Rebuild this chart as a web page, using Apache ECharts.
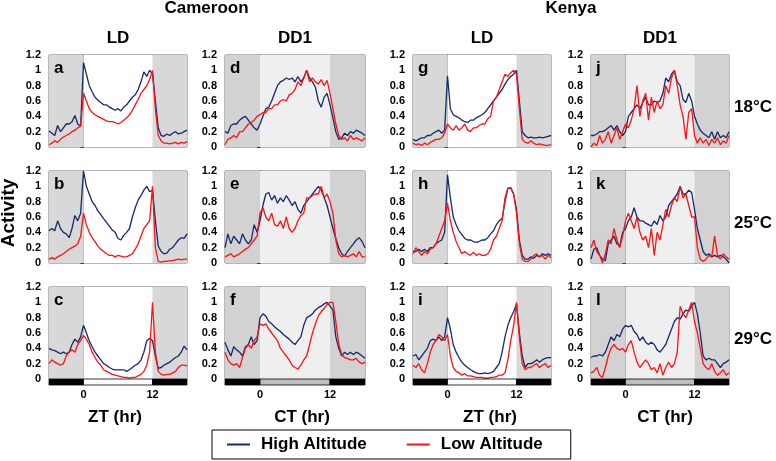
<!DOCTYPE html>
<html><head><meta charset="utf-8">
<script src="https://cdn.jsdelivr.net/npm/echarts@6/dist/echarts.min.js"></script>
<style>html,body{margin:0;padding:0;background:#fff}#c{width:776px;height:461px}</style>
</head><body><div id="c"></div>
<script>
// ---------- data ----------
const hours = [-6,-5.5,-5,-4.5,-4,-3.5,-3,-2.5,-2,-1.5,-1,-0.5,0,0.5,1,1.5,2,2.5,3,3.5,4,4.5,5,5.5,6,6.5,7,7.5,8,8.5,9,9.5,10,10.5,11,11.5,12,12.5,13,13.5,14,14.5,15,15.5,16,16.5,17,17.5,18];
const countries = ['Cameroon', 'Kenya'];
const conditions = ['LD', 'DD1', 'LD', 'DD1'];
const axisTitles = ['ZT (hr)', 'CT (hr)', 'ZT (hr)', 'CT (hr)'];
const temperatures = ['18', '25', '29'];
const seriesNames = ['High Altitude', 'Low Altitude'];
const xTickLabels = [0, 12];
const schedule = [[-6, 0, 'dark'], [0, 12, 'light'], [12, 18, 'dark']];

// Cameroon LD
const aHigh = [0.21,0.18,0.15,0.28,0.2,0.25,0.3,0.3,0.33,0.41,0.3,0.27, 1.1,0.95,0.8,0.72,0.65,0.61,0.58,0.55,0.55,0.52,0.5,0.48, 0.5,0.47,0.52,0.55,0.6,0.65,0.68,0.75,0.85,0.98,0.92,1.0, 0.95,0.6,0.25,0.15,0.14,0.17,0.15,0.18,0.2,0.17,0.18,0.2, 0.22];
const aLow  = [0.03,0.05,0.08,0.06,0.1,0.13,0.15,0.17,0.2,0.22,0.25,0.27, 0.7,0.6,0.5,0.45,0.42,0.4,0.38,0.36,0.34,0.33,0.33,0.32, 0.3,0.32,0.35,0.38,0.42,0.48,0.55,0.62,0.7,0.75,0.8,0.88, 1.0,0.5,0.15,0.08,0.05,0.05,0.04,0.05,0.06,0.04,0.06,0.05, 0.07];
const bHigh = [0.42,0.45,0.42,0.55,0.45,0.4,0.38,0.33,0.45,0.62,0.55,0.65, 1.2,1.0,0.9,0.8,0.75,0.68,0.63,0.58,0.53,0.48,0.43,0.4, 0.32,0.3,0.36,0.4,0.45,0.6,0.72,0.82,0.88,0.95,1.0,0.93, 0.95,0.55,0.22,0.15,0.12,0.13,0.18,0.2,0.25,0.3,0.33,0.32, 0.38];
const bLow  = [0.05,0.07,0.05,0.08,0.1,0.12,0.15,0.18,0.2,0.22,0.25,0.35, 0.65,0.5,0.4,0.33,0.28,0.22,0.18,0.15,0.12,0.1,0.1,0.08, 0.1,0.09,0.08,0.08,0.1,0.12,0.18,0.25,0.35,0.45,0.5,0.55, 1.0,0.2,0.02,0.01,0.02,0.02,0.03,0.03,0.04,0.05,0.04,0.05, 0.05];
const cHigh = [0.4,0.38,0.37,0.35,0.33,0.35,0.33,0.35,0.45,0.52,0.48,0.55, 0.7,0.6,0.5,0.42,0.35,0.3,0.25,0.2,0.18,0.15,0.13,0.12, 0.12,0.12,0.12,0.1,0.12,0.15,0.18,0.2,0.25,0.35,0.5,0.53, 0.5,0.3,0.14,0.15,0.18,0.2,0.22,0.25,0.28,0.3,0.35,0.43, 0.38];
const cLow  = [0.2,0.25,0.22,0.2,0.18,0.2,0.3,0.35,0.38,0.35,0.45,0.5, 0.57,0.52,0.45,0.35,0.28,0.22,0.18,0.12,0.1,0.08,0.06,0.05, 0.04,0.03,0.02,0.02,0.01,0.02,0.02,0.04,0.06,0.1,0.18,0.35, 1.0,0.35,0.1,0.06,0.05,0.06,0.06,0.08,0.1,0.15,0.18,0.18, 0.17];
// Cameroon DD1
const dHigh = [0.2,0.18,0.28,0.3,0.3,0.35,0.38,0.4,0.35,0.3,0.25,0.22, 0.3,0.4,0.5,0.52,0.6,0.7,0.8,0.85,0.87,0.9,0.88,0.9, 0.85,0.92,0.85,0.9,1.0,0.9,0.85,0.78,0.6,0.52,0.65,0.7, 0.55,0.38,0.2,0.1,0.12,0.18,0.15,0.2,0.18,0.22,0.2,0.18, 0.15];
const dLow  = [0.03,0.1,0.12,0.15,0.12,0.2,0.2,0.25,0.3,0.32,0.35,0.4, 0.42,0.45,0.45,0.5,0.5,0.55,0.55,0.6,0.62,0.6,0.68,0.7, 0.75,0.85,0.8,0.9,1.0,0.85,0.9,0.85,0.82,0.88,0.8,0.87, 0.7,0.5,0.3,0.15,0.1,0.12,0.08,0.15,0.1,0.12,0.1,0.08, 0.12];
const eHigh = [0.2,0.38,0.25,0.35,0.3,0.25,0.38,0.3,0.25,0.3,0.5,0.4, 0.55,0.75,0.9,0.92,0.82,0.88,0.78,0.85,0.8,0.88,0.82,0.75, 0.8,0.7,0.65,0.75,0.8,0.85,0.9,0.95,1.0,0.95,0.85,0.75, 0.6,0.45,0.32,0.2,0.12,0.09,0.15,0.2,0.25,0.3,0.33,0.28, 0.2];
const eLow  = [0.08,0.1,0.12,0.08,0.1,0.12,0.15,0.18,0.2,0.25,0.3,0.35, 0.65,0.72,0.6,0.55,0.65,0.5,0.48,0.55,0.45,0.6,0.45,0.4, 0.45,0.55,0.62,0.65,0.85,0.85,0.88,0.9,0.9,1.0,0.85,0.9, 0.8,0.65,0.3,0.12,0.08,0.1,0.08,0.1,0.12,0.08,0.15,0.08, 0.08];
const fHigh = [0.48,0.38,0.3,0.42,0.38,0.35,0.3,0.42,0.45,0.55,0.45,0.5, 0.8,0.85,0.82,0.75,0.72,0.68,0.65,0.62,0.58,0.55,0.52,0.48, 0.45,0.5,0.55,0.7,0.8,0.82,0.85,0.9,0.93,0.95,0.98,1.0, 0.95,0.9,0.55,0.4,0.3,0.35,0.32,0.35,0.32,0.35,0.33,0.3, 0.27];
const fLow  = [0.35,0.25,0.2,0.18,0.2,0.15,0.28,0.4,0.45,0.4,0.5,0.55, 0.72,0.7,0.72,0.65,0.6,0.55,0.5,0.4,0.35,0.3,0.25,0.18, 0.15,0.13,0.18,0.25,0.3,0.45,0.6,0.72,0.82,0.88,0.92,0.97, 1.0,1.0,0.75,0.45,0.32,0.28,0.27,0.25,0.25,0.27,0.22,0.2, 0.22];
// Kenya LD
const gHigh = [0.1,0.08,0.1,0.12,0.12,0.15,0.15,0.18,0.2,0.22,0.18,0.22, 0.93,0.5,0.42,0.4,0.38,0.35,0.33,0.32,0.35,0.35,0.38,0.4, 0.42,0.45,0.5,0.55,0.6,0.65,0.7,0.75,0.82,0.88,0.92,0.95, 1.0,0.6,0.2,0.15,0.12,0.13,0.12,0.12,0.13,0.12,0.13,0.14, 0.15];
const gLow  = [0.05,0.03,0.04,0.02,0.05,0.03,0.06,0.08,0.1,0.1,0.12,0.18, 0.3,0.25,0.22,0.28,0.22,0.25,0.3,0.22,0.2,0.25,0.25,0.28, 0.3,0.3,0.37,0.4,0.6,0.65,0.75,0.85,0.95,0.92,0.97,1.0, 0.95,0.5,0.1,0.06,0.05,0.08,0.05,0.03,0.04,0.03,0.02,0.02, 0.03];
const hHigh = [0.15,0.15,0.18,0.15,0.18,0.15,0.2,0.2,0.25,0.28,0.3,0.4, 1.15,0.85,0.6,0.5,0.42,0.37,0.32,0.3,0.3,0.28,0.27,0.28, 0.3,0.3,0.33,0.38,0.42,0.5,0.55,0.58,0.8,0.97,0.98,0.9, 0.7,0.3,0.1,0.05,0.05,0.08,0.06,0.1,0.08,0.12,0.1,0.12, 0.1];
const hLow  = [0.12,0.2,0.15,0.1,0.15,0.12,0.18,0.2,0.25,0.35,0.45,0.55, 0.78,0.55,0.4,0.28,0.2,0.12,0.15,0.12,0.1,0.14,0.1,0.12, 0.1,0.1,0.12,0.18,0.3,0.35,0.45,0.55,0.85,0.98,0.98,0.9, 0.65,0.25,0.05,0.02,0.02,0.05,0.1,0.12,0.08,0.1,0.05,0.1, 0.07];
const iHigh = [0.3,0.32,0.25,0.3,0.35,0.4,0.5,0.52,0.5,0.55,0.5,0.55, 0.8,0.65,0.45,0.35,0.28,0.22,0.18,0.15,0.12,0.1,0.08,0.07, 0.07,0.08,0.07,0.08,0.1,0.15,0.2,0.35,0.55,0.7,0.8,0.88, 0.98,0.6,0.3,0.15,0.2,0.2,0.22,0.25,0.22,0.25,0.27,0.28, 0.28];
const iLow  = [0.18,0.15,0.2,0.12,0.08,0.2,0.35,0.45,0.5,0.58,0.55,0.5, 0.58,0.3,0.15,0.1,0.08,0.05,0.07,0.04,0.04,0.03,0.02,0.02, 0.02,0.01,0.01,0.02,0.02,0.03,0.05,0.05,0.08,0.25,0.5,0.7, 1.0,0.55,0.2,0.12,0.15,0.15,0.18,0.2,0.15,0.18,0.2,0.15, 0.18];
// Kenya DD1
const jHigh = [0.15,0.15,0.17,0.2,0.2,0.22,0.25,0.28,0.22,0.28,0.2,0.15, 0.2,0.4,0.45,0.5,0.55,0.5,0.58,0.65,0.55,0.55,0.6,0.58, 0.6,0.7,0.9,0.85,0.95,1.0,0.85,0.8,0.62,0.58,0.7,0.6, 0.4,0.3,0.22,0.18,0.15,0.12,0.2,0.1,0.2,0.12,0.15,0.12, 0.2];
const jLow  = [0.0,0.05,0.02,0.15,0.05,0.1,0.2,0.05,0.15,0.25,0.1,0.2, 0.3,0.25,0.35,0.5,0.8,0.4,0.6,0.7,0.35,0.65,0.45,0.6, 0.5,0.55,0.8,0.7,0.9,1.0,0.8,0.55,0.4,0.1,0.45,0.5, 0.15,0.05,0.12,0.05,0.1,0.02,0.1,0.05,0.12,0.03,0.08,0.05, 0.15];
const kHigh = [0.05,0.18,0.2,0.1,0.05,0.03,0.25,0.3,0.35,0.25,0.22,0.4, 0.45,0.55,0.6,0.72,0.6,0.55,0.55,0.52,0.5,0.48,0.55,0.5, 0.62,0.55,0.6,0.75,0.8,0.85,0.9,1.0,0.9,0.9,0.95,0.92, 0.7,0.45,0.3,0.15,0.1,0.12,0.08,0.1,0.08,0.1,0.08,0.05, 0.0];
const kLow  = [0.2,0.3,0.15,0.1,0.0,0.12,0.3,0.25,0.45,0.3,0.2,0.35, 0.55,0.65,0.55,0.45,0.6,0.4,0.3,0.35,0.2,0.45,0.1,0.4, 0.3,0.5,0.7,0.6,0.75,0.85,0.8,1.0,0.85,0.9,0.75,0.6, 0.6,0.2,0.05,0.02,0.05,0.1,0.08,0.35,0.1,0.05,0.12,0.08, 0.05];
const lHigh = [0.28,0.3,0.3,0.32,0.3,0.35,0.45,0.55,0.5,0.58,0.55,0.65, 0.7,0.68,0.7,0.62,0.58,0.5,0.55,0.48,0.45,0.48,0.45,0.38, 0.35,0.4,0.45,0.55,0.65,0.75,0.8,0.78,0.85,0.9,0.88,0.95, 1.0,0.85,0.6,0.3,0.25,0.27,0.25,0.25,0.2,0.15,0.2,0.22, 0.25];
const lLow  = [0.08,0.1,0.15,0.05,0.02,0.15,0.3,0.4,0.45,0.4,0.38,0.4, 0.35,0.45,0.5,0.35,0.22,0.15,0.2,0.25,0.2,0.12,0.15,0.08, 0.2,0.05,0.15,0.22,0.15,0.2,0.35,0.95,0.85,0.8,0.9,1.0, 0.75,0.6,0.4,0.2,0.15,0.12,0.2,0.1,0.05,0.08,0.12,0.05, 0.08];

// panels in column-major order: [letter, high, low]
const panelSeries = [
  ['a', aHigh, aLow], ['b', bHigh, bLow], ['c', cHigh, cLow],
  ['d', dHigh, dLow], ['e', eHigh, eLow], ['f', fHigh, fLow],
  ['g', gHigh, gLow], ['h', hHigh, hLow], ['i', iHigh, iLow],
  ['j', jHigh, jLow], ['k', kHigh, kLow], ['l', lHigh, lLow]
];

// ---------- layout & style ----------
const FONT = "'Liberation Sans', Arial, Helvetica, sans-serif";
const colLeft = [49, 225, 413, 591];
const colWidth = [138, 140, 138, 138];
const rowTop = [55, 171, 287];
const plotH = 92;
const barH = 6;
const HIGH_COLOR = '#14296b';
const LOW_COLOR = '#fa1414';
const shade = {
  LD: { dark: '#d8d8d8', light: '#ffffff' },
  DD1: { dark: '#d2d2d2', light: '#efefef' }
};
const barFill = {
  LD: { dark: '#000000', light: '#ffffff' },
  DD1: { dark: '#000000', light: '#bdbdbd' }
};

const grid = [], xAxis = [], yAxis = [], series = [], graphic = [];

panelSeries.forEach((p, idx) => {
  const col = Math.floor(idx / 3), row = idx % 3;
  const cond = conditions[col];
  grid.push({ left: colLeft[col], top: rowTop[row], width: colWidth[col], height: plotH,
    show: true, borderColor: '#6f6f6f', borderWidth: 1, backgroundColor: 'transparent' });
  xAxis.push({ gridIndex: idx, type: 'value', min: -6, max: 18,
    axisLine: { show: false }, axisTick: { show: false }, axisLabel: { show: false }, splitLine: { show: false } });
  yAxis.push({ gridIndex: idx, type: 'value', min: 0, max: 1.2, interval: 0.2,
    axisLine: { show: true, lineStyle: { color: '#333', width: 1 } },
    axisTick: { show: true, length: 3, lineStyle: { color: '#333' } },
    splitLine: { show: false },
    axisLabel: { color: '#000', fontWeight: 'bold', fontSize: 11, fontFamily: FONT, margin: 8,
      formatter: v => String(Math.round(v * 10) / 10) } });
  // background shading (dark / light phases)
  series.push({ type: 'line', name: 'phase', xAxisIndex: idx, yAxisIndex: idx, z: 1,
    data: [[-6, 0]], symbol: 'none', lineStyle: { opacity: 0 }, silent: true,
    markArea: { silent: true, data: schedule.map(s => [
      { xAxis: s[0], itemStyle: { color: shade[cond][s[2]] } }, { xAxis: s[1] }]) } });
  series.push({ type: 'line', name: seriesNames[0], xAxisIndex: idx, yAxisIndex: idx, z: 3,
    data: hours.map((h, i) => [h, p[1][i]]), symbol: 'none',
    lineStyle: { color: HIGH_COLOR, width: 1.3 }, itemStyle: { color: HIGH_COLOR } });
  series.push({ type: 'line', name: seriesNames[1], xAxisIndex: idx, yAxisIndex: idx, z: 4,
    data: hours.map((h, i) => [h, p[2][i]]), symbol: 'none',
    lineStyle: { color: LOW_COLOR, width: 1.3 }, itemStyle: { color: LOW_COLOR } });
  graphic.push({ type: 'text', left: colLeft[col] + 5, top: rowTop[row] + 5, z: 100,
    style: { text: p[0], font: 'bold 17px ' + FONT, fill: '#000' } });
});

// light-schedule bars under bottom row
conditions.forEach((cond, col) => {
  const gi = grid.length;
  grid.push({ left: colLeft[col], top: rowTop[2] + plotH, width: colWidth[col], height: barH, show: false });
  xAxis.push({ gridIndex: gi, type: 'value', min: -6, max: 18, interval: 6,
    axisLine: { show: false }, axisTick: { show: false }, splitLine: { show: false },
    axisLabel: { show: true, color: '#000', fontWeight: 'bold', fontSize: 11, fontFamily: FONT, margin: 4,
      formatter: v => (xTickLabels.indexOf(v) >= 0 ? String(v) : '') } });
  yAxis.push({ gridIndex: gi, type: 'value', min: 0, max: 1, show: false });
  series.push({ type: 'custom', name: 'bar', xAxisIndex: gi, yAxisIndex: gi, silent: true, z: 5,
    data: schedule.map(s => [s[0], s[1]]),
    renderItem: (params, api) => {
      const p0 = api.coord([api.value(0), 1]);
      const p1 = api.coord([api.value(1), 0]);
      return { type: 'rect', shape: { x: p0[0], y: p0[1], width: p1[0] - p0[0], height: p1[1] - p0[1] },
        style: { fill: barFill[cond][schedule[params.dataIndex][2]], stroke: '#000', lineWidth: 0.8 } };
    } });
  graphic.push({ type: 'text', x: colLeft[col] + colWidth[col] / 2 + [ -3, 7, 8, 5 ][col], y: 417,
    style: { text: axisTitles[col], font: 'bold 17px ' + FONT, fill: '#000', textAlign: 'center', textVerticalAlign: 'middle' } });
  graphic.push({ type: 'text', x: colLeft[col] + colWidth[col] / 2, y: 38,
    style: { text: conditions[col], font: 'bold 17px ' + FONT, fill: '#000', textAlign: 'center', textVerticalAlign: 'middle' } });
});

countries.forEach((c, k) => {
  const cx = (colLeft[2 * k] + colWidth[2 * k] / 2 + colLeft[2 * k + 1] + colWidth[2 * k + 1] / 2) / 2;
  graphic.push({ type: 'text', x: cx, y: 8,
    style: { text: c, font: 'bold 17px ' + FONT, fill: '#000', textAlign: 'center', textVerticalAlign: 'middle' } });
});

temperatures.forEach((t, r) => {
  graphic.push({ type: 'text', x: 734, y: rowTop[r] + 52,
    style: { text: t + '°C', font: 'bold 17px ' + FONT, fill: '#000', textAlign: 'left', textVerticalAlign: 'middle' } });
});

graphic.push({ type: 'text', x: 9, y: 213, rotation: Math.PI / 2,
  style: { text: 'Activity', font: 'bold 19px ' + FONT, fill: '#000', textAlign: 'center', textVerticalAlign: 'middle' } });

const option = {
  animation: false,
  backgroundColor: '#fff',
  grid, xAxis, yAxis, series, graphic,
  legend: {
    data: [
      { name: seriesNames[0], icon: 'rect', itemStyle: { color: HIGH_COLOR } },
      { name: seriesNames[1], icon: 'rect', itemStyle: { color: LOW_COLOR } }
    ],
    left: 212, top: 430, orient: 'horizontal',
    itemWidth: 23, itemHeight: 2, itemGap: 40,
    padding: [6, 28, 6, 15],
    borderColor: '#000', borderWidth: 1,
    selectedMode: false,
    textStyle: { fontSize: 17, fontWeight: 'bold', fontFamily: FONT, color: '#000', padding: [0, 0, 0, 6] }
  }
};

const chart = echarts.init(document.getElementById('c'), null, { renderer: 'canvas' });
chart.setOption(option);
</script></body></html>
